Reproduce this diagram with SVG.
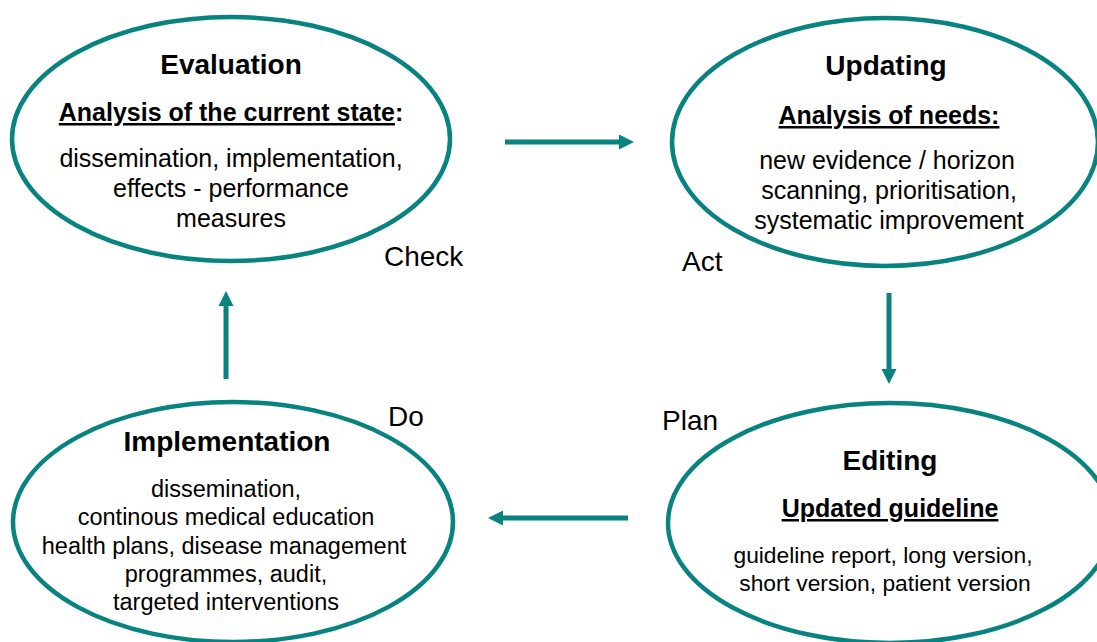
<svg xmlns="http://www.w3.org/2000/svg" width="1097" height="642" viewBox="0 0 1097 642">
<style>
.ell{fill:none;stroke:#088380;stroke-width:4.5}
text{font-family:"Liberation Sans",Arial,sans-serif;fill:#000;text-anchor:middle}
.title{font-size:28px;font-weight:bold}
.sub{font-size:25px;font-weight:bold}
.u{text-decoration:underline}
.body{font-size:25px}
.lbl{font-size:28px;text-anchor:start}
.conn{stroke:#088380;stroke-width:5;fill:none;marker-end:url(#ah)}
</style>
<defs>
<marker id="ah" markerUnits="userSpaceOnUse" markerWidth="16" markerHeight="16" refX="0" refY="7.5" orient="auto" overflow="visible">
<path d="M0,0 L15,7.5 L0,15 Z" fill="#088380"/>
</marker>
</defs>
<rect width="1097" height="642" fill="#fff"/>
<g id="evaluation">
<ellipse class="ell" cx="231" cy="139" rx="219" ry="122"/>
<text class="title" x="231" y="74">Evaluation</text>
<text class="sub" x="231" y="121"><tspan class="u">Analysis of the current state</tspan>:</text>
<text class="body" x="231" y="167">dissemination, implementation,</text>
<text class="body" x="231" y="197">effects - performance</text>
<text class="body" x="231" y="227">measures</text>
</g>
<g id="updating">
<ellipse class="ell" cx="885" cy="142" rx="213" ry="124"/>
<text class="title" x="886" y="75">Updating</text>
<text class="sub u" x="889" y="124">Analysis of needs:</text>
<text class="body" x="887" y="169">new evidence / horizon</text>
<text class="body" x="889" y="199">scanning, prioritisation,</text>
<text class="body" x="889" y="229">systematic improvement</text>
</g>
<g id="editing">
<ellipse class="ell" cx="890" cy="523" rx="222" ry="120"/>
<text class="title" x="890" y="470">Editing</text>
<text class="sub u" x="890" y="517">Updated guideline</text>
<text class="body" x="883" y="563" style="font-size:22.8px">guideline report, long version,</text>
<text class="body" x="885" y="591" style="font-size:22.8px">short version, patient version</text>
</g>
<g id="implementation">
<ellipse class="ell" cx="233" cy="522" rx="220" ry="120"/>
<text class="title" x="227" y="451">Implementation</text>
<text class="body" x="226" y="497" style="font-size:23.5px">dissemination,</text>
<text class="body" x="226" y="525" style="font-size:23.5px">continous medical education</text>
<text class="body" x="224" y="554" style="font-size:23.5px">health plans, disease management</text>
<text class="body" x="226" y="582" style="font-size:23.5px">programmes, audit,</text>
<text class="body" x="226" y="610" style="font-size:23.5px">targeted interventions</text>
</g>
<g id="labels">
<text class="lbl" x="384" y="266">Check</text>
<text class="lbl" x="682" y="271">Act</text>
<text class="lbl" x="662" y="430">Plan</text>
<text class="lbl" x="388" y="426">Do</text>
</g>
<g id="connectors">
<line class="conn" x1="505" y1="142" x2="619" y2="142"/>
<line class="conn" x1="889" y1="293" x2="889" y2="369"/>
<line class="conn" x1="628" y1="518" x2="503" y2="518"/>
<line class="conn" x1="226" y1="379" x2="226" y2="306"/>
</g>
</svg>
